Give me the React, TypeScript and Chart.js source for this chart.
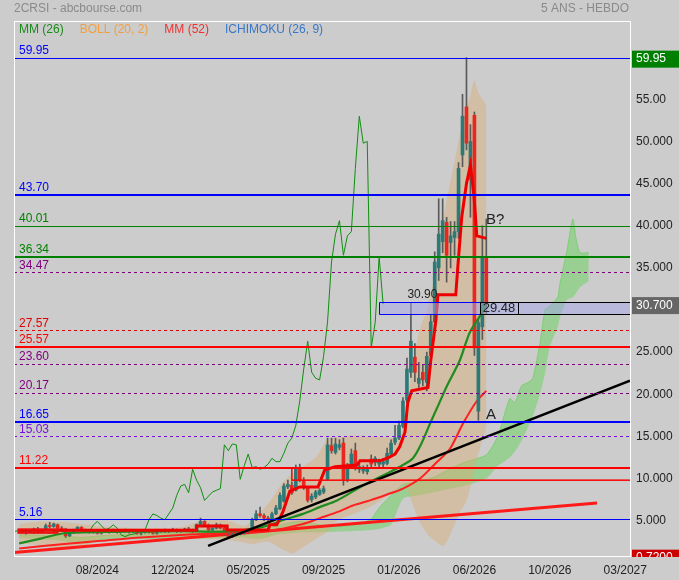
import React, { useEffect, useRef } from 'react';
import { Chart, registerables } from 'chart.js';

Chart.register(...registerables);

const W = 679;
const H = 580;
const BG = '#cccccc';
const FONT = '"Liberation Sans", Arial, sans-serif';

// ---- axis ticks ----
const xTickPositions = [19, 38, 57, 76, 95, 114, 133, 152];
const xTickLabels = ['08/2024', '12/2024', '05/2025', '09/2025', '01/2026', '06/2026', '10/2026', '03/2027'];
const yTickValues = [5, 10, 15, 20, 25, 30, 35, 40, 45, 50, 55];
const yTickLabels = ['5.000', '10.000', '15.000', '20.000', '25.000', '30.000', '35.000', '40.000', '45.000', '50.000', '55.00'];

// ---- weekly candles (index = week) ----
const opens = [
  3.7, 3.6, 3.7, 3.8, 4.0, 3.6, 3.9, 4.4, 4.3, 4.5, 4.1, 4.0, 3.2, 3.6, 3.9, 4.2, 3.9, 3.7, 3.8, 3.6,
  3.5, 3.8, 3.7, 3.8, 3.6, 3.7, 3.8, 3.7, 3.8, 3.7, 3.5, 3.6, 3.7, 3.6, 3.5, 3.7, 3.8, 3.7, 3.8, 3.9,
  3.7, 3.8, 4.0, 3.8, 3.7, 4.5, 4.9, 4.4, 3.9, 4.1, 4.5, 4.1, 3.3, 3.1, 3.3, 3.4, 3.5, 3.7, 3.9, 5.1,
  5.8, 5.6, 5.3, 5.2, 5.8, 6.4, 7.3, 9.0, 9.2, 8.6, 11.1, 9.8, 8.9, 7.5, 7.8, 8.1, 8.4, 9.9, 13.9, 13.1,
  13.7, 14.2, 9.9, 11.5, 13.3, 11.1, 10.9, 10.8, 12.3, 11.9, 11.7, 11.7, 11.8, 12.9, 14.3, 14.8, 16.2, 19.3, 22.6, 24.4,
  21.3, 22.6, 21.4, 24.6, 28.6, 35.0, 38.1, 40.4, 38.0, 38.6, 39.3, 48.4, 54.1, 45.5, 53.1, 18.0, 28.0, 36.3,
];
const highs = [
  3.9, 3.8, 3.9, 4.1, 4.2, 4.0, 4.6, 4.8, 4.7, 4.6, 4.3, 4.1, 3.7, 4.0, 4.3, 4.3, 4.0, 3.9, 3.9, 3.8,
  3.9, 4.0, 3.9, 4.0, 3.8, 3.9, 4.0, 3.9, 3.9, 3.8, 3.7, 3.8, 3.9, 3.7, 3.8, 3.9, 4.0, 3.9, 4.1, 4.0,
  3.9, 4.1, 4.2, 4.0, 4.6, 5.3, 5.0, 4.6, 4.3, 4.7, 4.6, 4.2, 3.5, 3.5, 3.6, 3.7, 3.8, 4.1, 5.3, 6.2,
  6.6, 5.8, 5.5, 6.0, 6.8, 8.3, 9.4, 9.8, 9.6, 11.6, 11.7, 10.1, 9.0, 8.2, 8.6, 8.8, 9.1, 14.8, 14.8, 14.8,
  14.6, 14.8, 11.8, 13.5, 14.2, 11.8, 11.5, 11.6, 12.8, 12.6, 12.3, 12.4, 13.6, 14.6, 16.3, 16.8, 19.6, 24.3, 30.9, 26.0,
  23.8, 23.5, 25.0, 29.5, 36.9, 43.2, 43.2, 41.0, 40.5, 40.5, 47.5, 55.6, 59.95, 52.0, 53.5, 29.0, 40.0, 40.8,
];
const lows = [
  3.5, 3.4, 3.6, 3.7, 3.5, 3.5, 3.8, 4.1, 4.2, 4.0, 3.9, 3.0, 3.1, 3.5, 3.8, 3.8, 3.6, 3.5, 3.5, 3.4,
  3.4, 3.6, 3.5, 3.6, 3.5, 3.6, 3.6, 3.5, 3.6, 3.4, 3.3, 3.5, 3.5, 3.4, 3.4, 3.6, 3.6, 3.6, 3.7, 3.6,
  3.6, 3.7, 3.8, 3.6, 3.7, 4.4, 4.3, 3.8, 3.8, 4.0, 4.0, 3.2, 3.0, 3.0, 3.2, 3.3, 3.4, 3.6, 3.8, 5.0,
  5.4, 5.0, 4.9, 5.1, 5.7, 6.3, 7.2, 8.8, 8.1, 8.5, 9.6, 8.7, 7.2, 7.2, 7.6, 8.0, 8.2, 9.8, 13.0, 12.9,
  13.4, 9.2, 9.6, 11.3, 11.0, 10.7, 10.6, 10.5, 11.4, 11.5, 11.3, 11.2, 11.6, 12.7, 14.0, 14.6, 16.0, 19.0, 22.0, 21.5,
  20.8, 21.0, 20.4, 24.0, 28.0, 33.5, 36.8, 33.3, 35.0, 36.5, 38.5, 47.0, 49.0, 41.0, 24.6, 16.9, 26.5, 29.5,
];
const closes = [
  3.6, 3.7, 3.8, 4.0, 3.6, 3.9, 4.4, 4.3, 4.6, 4.1, 4.0, 3.2, 3.6, 3.9, 4.2, 3.9, 3.7, 3.8, 3.6, 3.5,
  3.8, 3.7, 3.8, 3.6, 3.7, 3.8, 3.7, 3.8, 3.7, 3.5, 3.6, 3.7, 3.6, 3.5, 3.7, 3.8, 3.7, 3.8, 3.9, 3.7,
  3.8, 4.0, 3.9, 3.7, 4.5, 4.9, 4.4, 3.9, 4.1, 4.5, 4.1, 3.3, 3.1, 3.3, 3.4, 3.5, 3.7, 3.9, 5.1, 5.8,
  5.6, 5.3, 5.1, 5.8, 6.5, 8.0, 9.1, 9.3, 8.3, 11.1, 9.8, 8.9, 7.4, 7.9, 8.4, 8.6, 8.8, 14.0, 13.3, 14.1,
  14.0, 9.9, 11.5, 12.9, 11.3, 11.4, 11.1, 11.3, 11.7, 12.4, 12.0, 12.0, 13.0, 14.2, 14.8, 16.3, 19.2, 23.0, 26.3, 22.6,
  21.9, 21.7, 24.5, 28.6, 35.7, 39.0, 40.6, 36.5, 38.8, 39.3, 46.8, 53.0, 49.8, 50.0, 25.5, 28.5, 36.3, 30.7,
];
const chikouShift = 26;

// ---- MM (26) ----
const mm26X = [-0.7, 5, 10.6, 20, 30, 40, 50, 58, 62.5, 66, 70.8, 75, 79.4, 83.5, 87.7, 92, 96, 98.5, 100.5, 102.8, 105, 107.1, 110.3, 112.8, 115.4, 117];
const mm26Y = [2.3, 2.9, 3.5, 3.65, 3.7, 3.75, 3.7, 4.0, 4.5, 5.1, 5.8, 6.6, 7.4, 8.5, 9.6, 10.6, 11.6, 12.4, 14.0, 16.5, 18.8, 21.0, 24.0, 27.3, 29.3, 30.7];

// ---- MM (52) ----
const mm52X = [-0.7, 10, 20, 30, 40, 50, 62.5, 70.8, 75.1, 79.4, 83.4, 87.7, 92, 96, 100.3, 104, 107.8, 111.1, 114.6, 117];
const mm52Y = [1.7, 2.2, 2.6, 3.0, 3.3, 3.5, 3.8, 4.6, 5.3, 6.0, 6.8, 7.4, 8.1, 8.8, 10.0, 11.7, 13.5, 16.5, 19.2, 20.4];

// ---- Ichimoku tenkan (red step line) ----
const tenkanX = [-0.7, 44, 44, 51.7, 51.7, 62, 62.5, 64.2, 65.8, 67.5, 70, 74.6, 76.3, 78.9, 84.4, 85.2, 90.2, 92, 94, 95.2, 96.5, 97.2, 98.2, 102.3, 103, 104.3, 104.8, 109.3, 109.8, 110.8, 112, 113, 113.9, 114.6, 117];
const tenkanY = [3.85, 3.85, 4.35, 4.35, 3.9, 3.9, 4.5, 4.5, 6.1, 8.5, 9.0, 9.0, 11.0, 11.4, 11.6, 12.1, 12.1, 12.4, 12.9, 13.8, 15.5, 19.0, 20.4, 20.8, 24.0, 28.8, 31.8, 31.8, 35.0, 41.0, 45.0, 47.2, 43.5, 38.8, 38.5];

// ---- Bollinger (20, 2) ----
const bollX = [-0.7, 5, 10, 15, 20, 30, 40, 44, 48, 52, 56, 58, 62, 66, 68, 70, 74, 77, 79, 83, 88, 92, 95, 96, 97, 98, 100, 102, 103, 104, 106, 107, 109, 110, 112, 113, 114, 115, 117];
const bollUpper = [4.6, 4.9, 4.8, 4.6, 4.3, 4.1, 4.2, 4.8, 5.2, 5.0, 4.4, 5.1, 7.0, 9.7, 10.5, 11.2, 12.5, 14.7, 14.8, 15.1, 15.0, 14.9, 14.9, 16.0, 17.7, 22.0, 27.3, 30.0, 32.0, 34.0, 40.0, 43.0, 47.6, 50.0, 54.0, 55.5, 57.2, 55.8, 54.3];
const bollLower = [2.3, 2.0, 1.6, 1.8, 2.9, 3.1, 3.2, 2.9, 2.8, 2.7, 2.4, 2.2, 2.5, 1.5, 1.1, 1.6, 2.8, 3.7, 4.9, 5.7, 6.7, 7.9, 8.8, 9.3, 8.8, 7.5, 5.0, 3.5, 3.0, 2.6, 2.0, 2.5, 4.5, 5.7, 7.4, 9.0, 11.0, 13.0, 16.0];

// ---- Ichimoku cloud ----
const cloudX = [-0.7, 10, 15, 20, 25, 30, 40, 50, 55, 60, 65, 70, 75, 80, 85, 88, 90, 93, 96, 100, 104, 108, 112, 117, 119.9, 122.9, 124.2, 125.9, 127.9, 128.8, 130.5, 131.8, 133, 135, 135.5, 137.3, 138.8, 139.6, 140.6, 142.8];
const cloudTop = [3.3, 3.2, 3.0, 3.2, 3.3, 3.4, 3.5, 3.6, 3.7, 3.8, 4.5, 4.9, 4.5, 4.3, 4.6, 5.2, 6.5, 8.0, 9.3, 9.6, 10.2, 11.2, 12.0, 12.8, 15.0, 19.5, 19.0, 21.0, 21.5, 22.0, 26.0, 30.0, 30.5, 31.5, 33.0, 37.0, 40.8, 38.5, 36.8, 36.8];
const cloudBottom = [2.9, 2.6, 2.2, 2.6, 2.9, 2.8, 2.8, 2.9, 3.0, 2.8, 3.4, 3.6, 3.6, 3.7, 3.8, 3.9, 4.0, 4.5, 7.6, 8.0, 8.4, 8.8, 9.2, 10.0, 11.5, 12.5, 13.2, 14.5, 16.5, 17.5, 20.0, 22.5, 25.6, 28.0, 29.0, 31.2, 31.5, 32.0, 32.7, 33.4];

// ---- trend lines ----
const blackTrendX = [46.9, 153.2];
const blackTrendY = [2.0, 21.6];
const redTrendX = [-2, 144.9];
const redTrendY = [1.2, 7.1];

// ---- horizontal levels ----
const levelValues = [59.95, 43.7, 40.01, 36.34, 34.47, 27.57, 25.57, 23.6, 20.17, 16.65, 15.03, 11.22, 5.16];
const levelLabels = ['59.95', '43.70', '40.01', '36.34', '34.47', '27.57', '25.57', '23.60', '20.17', '16.65', '15.03', '11.22', '5.16'];
const levelColors = ['#0000ff', '#0000ff', '#008000', '#008000', '#800080', '#e00000', '#ff0000', '#800080', '#800080', '#0000ff', '#7a10e0', '#ff0000', '#0000ff'];
const levelWidths = [1, 2, 1, 2, 1, 1, 2, 1, 1, 2, 1, 2, 1];
const levelDashed = [false, false, false, false, true, true, false, true, true, false, true, false, false];

// ---- zones ----
const zoneLavenderX = [90, 153.2];
const zoneLavenderY = [29.48, 30.9];
const zoneBlackX = [115.4, 125];
const zoneRedX = [68, 153.2];
const zoneRedY = [9.8, 11.22];
const zoneLeftX = [-0.9, 9];
const zoneLeftY = [3.55, 3.95];

// ---- notes ----
const noteTexts = ['30.90', '29.48', 'B?', 'A'];
const noteX = [100.9, 116.1, 116.9, 116.9];
const noteY = [31.8, 30.2, 40.7, 17.6];
const noteSizes = [12, 13, 15, 15];
const noteAlign = ['center', 'left', 'left', 'left'];

// ---- right axis tags ----
const tagValues = [59.95, 30.7, 0.72];
const tagTexts = ['59.95', '30.700', '0.7200'];
const tagColors = ['#008000', '#666666', '#cc0000'];

// ---- legend ----
const legendTexts = ['MM (26)', 'BOLL (20, 2)', 'MM (52)', 'ICHIMOKU (26, 9)'];
const legendColors = ['#1a8a1a', '#f0a040', '#f03030', '#3878c8'];

const pts = (xs: number[], ys: number[]) => xs.map((x, k) => ({ x, y: ys[k] }));

const decorPlugin = {
  id: 'decor',
  beforeDraw(chart: any) {
    const ctx = chart.ctx;
    ctx.save();
    ctx.fillStyle = BG;
    ctx.fillRect(0, 0, chart.width, chart.height);
    ctx.restore();
  },
  afterDatasetsDraw(chart: any) {
    const ctx = chart.ctx;
    const a = chart.chartArea;
    const x = chart.scales.x;
    const y = chart.scales.y;
    ctx.save();
    ctx.beginPath();
    ctx.rect(a.left, a.top, a.right - a.left, a.bottom - a.top);
    ctx.clip();

    // left small red box
    ctx.strokeStyle = '#ee1010';
    ctx.lineWidth = 2;
    ctx.strokeRect(
      x.getPixelForValue(zoneLeftX[0]), y.getPixelForValue(zoneLeftY[1]),
      x.getPixelForValue(zoneLeftX[1]) - x.getPixelForValue(zoneLeftX[0]),
      y.getPixelForValue(zoneLeftY[0]) - y.getPixelForValue(zoneLeftY[1])
    );

    // red zone
    ctx.strokeStyle = '#ff0000';
    ctx.lineWidth = 1.5;
    const rx0 = x.getPixelForValue(zoneRedX[0]);
    const rx1 = x.getPixelForValue(zoneRedX[1]) + 2;
    const ry0 = y.getPixelForValue(zoneRedY[1]);
    const ry1 = y.getPixelForValue(zoneRedY[0]);
    ctx.strokeRect(rx0, ry0, rx1 - rx0, ry1 - ry0);

    // lavender zone
    const lx0 = x.getPixelForValue(zoneLavenderX[0]);
    const lx1 = x.getPixelForValue(zoneLavenderX[1]) + 2;
    const ly0 = Math.round(y.getPixelForValue(zoneLavenderY[1]));
    const ly1 = Math.round(y.getPixelForValue(zoneLavenderY[0]));
    ctx.fillStyle = 'rgba(165,165,235,0.5)';
    ctx.fillRect(lx0, ly0, lx1 - lx0, ly1 - ly0);
    const bx0 = Math.round(x.getPixelForValue(zoneBlackX[0]));
    const bx1 = Math.round(x.getPixelForValue(zoneBlackX[1]));
    ctx.strokeStyle = '#0000ff';
    ctx.lineWidth = 1;
    ctx.beginPath();
    ctx.moveTo(bx0, ly0 + 0.5); ctx.lineTo(Math.round(lx0) + 0.5, ly0 + 0.5); ctx.lineTo(Math.round(lx0) + 0.5, ly1 + 0.5); ctx.lineTo(bx0, ly1 + 0.5);
    ctx.stroke();
    ctx.strokeStyle = '#000000';
    ctx.beginPath();
    ctx.moveTo(bx0, ly0 + 0.5); ctx.lineTo(lx1, ly0 + 0.5);
    ctx.moveTo(bx0, ly1 + 0.5); ctx.lineTo(lx1, ly1 + 0.5);
    ctx.moveTo(bx0 + 0.5, ly0); ctx.lineTo(bx0 + 0.5, ly1);
    ctx.moveTo(bx1 + 0.5, ly0); ctx.lineTo(bx1 + 0.5, ly1);
    ctx.stroke();

    // level lines
    levelValues.forEach((v, k) => {
      const py = Math.round(y.getPixelForValue(v)) + (levelWidths[k] % 2 === 1 ? 0.5 : 0);
      ctx.strokeStyle = levelColors[k];
      ctx.lineWidth = levelWidths[k];
      ctx.setLineDash(levelDashed[k] ? [3, 3] : []);
      ctx.beginPath();
      ctx.moveTo(a.left, py);
      ctx.lineTo(a.right, py);
      ctx.stroke();
    });
    ctx.setLineDash([]);

    // level labels
    ctx.font = `12px ${FONT}`;
    ctx.textAlign = 'left';
    ctx.textBaseline = 'alphabetic';
    levelValues.forEach((v, k) => {
      const py = y.getPixelForValue(v);
      ctx.fillStyle = levelColors[k];
      ctx.fillText(levelLabels[k], a.left + 5, py - 3 - levelWidths[k] / 2);
    });

    // notes
    noteTexts.forEach((t, k) => {
      ctx.font = `${noteSizes[k]}px ${FONT}`;
      ctx.fillStyle = '#222222';
      ctx.textAlign = noteAlign[k] as CanvasTextAlign;
      ctx.textBaseline = 'middle';
      ctx.fillText(t, x.getPixelForValue(noteX[k]), y.getPixelForValue(noteY[k]));
    });
    ctx.restore();
  },
  afterDraw(chart: any) {
    const ctx = chart.ctx;
    const a = chart.chartArea;
    const y = chart.scales.y;
    ctx.save();

    // plot frame
    ctx.strokeStyle = '#ffffff';
    ctx.lineWidth = 1;
    ctx.strokeRect(a.left + 0.5, a.top + 0.5, a.right - a.left, a.bottom - a.top);

    // right axis tags
    ctx.save();
    ctx.beginPath();
    ctx.rect(0, 0, chart.width, a.bottom + 1);
    ctx.clip();
    tagValues.forEach((v, k) => {
      const cy = y.getPixelForValue(v) + 1.5;
      ctx.fillStyle = tagColors[k];
      ctx.fillRect(a.right + 2, cy - 8.5, chart.width - a.right - 2, 17);
      ctx.fillStyle = '#ffffff';
      ctx.font = `12px ${FONT}`;
      ctx.textAlign = 'left';
      ctx.textBaseline = 'middle';
      ctx.fillText(tagTexts[k], a.right + 6, cy);
    });
    ctx.restore();

    // titles
    ctx.font = `12px ${FONT}`;
    ctx.fillStyle = '#8a8a8a';
    ctx.textBaseline = 'middle';
    ctx.textAlign = 'left';
    ctx.fillText('2CRSI - abcbourse.com', 14, 9);
    ctx.textAlign = 'right';
    ctx.fillText('5 ANS - HEBDO', 629, 9);

    // legend
    ctx.textAlign = 'left';
    let lx = a.left + 5;
    legendTexts.forEach((t, k) => {
      ctx.fillStyle = legendColors[k];
      ctx.fillText(t, lx, a.top + 9);
      lx += ctx.measureText(t).width + 16;
    });
    ctx.restore();
  },
};

export default function App() {
  const ref = useRef<HTMLCanvasElement>(null);

  useEffect(() => {
    const canvas = ref.current;
    if (!canvas) return;
    Chart.defaults.font.family = FONT;
    Chart.defaults.font.size = 12;

    const wickData = closes.map((_, i) => ({ x: i, y: [lows[i], highs[i]] }));
    const bodyData = closes.map((c, i) => ({ x: i, y: [opens[i], c] }));
    const bodyColors = closes.map((c, i) => (c >= opens[i] ? '#2b7a77' : '#e8281e'));
    const chikouData = closes.map((c, i) => ({ x: i - chikouShift, y: c }));

    const chart = new Chart(canvas, {
      type: 'line',
      data: {
        datasets: [
          { type: 'line', data: pts(cloudX, cloudBottom), borderColor: 'rgba(0,0,0,0)', borderWidth: 0, pointRadius: 0, fill: false, order: 30, tension: 0.2 },
          { type: 'line', data: pts(cloudX, cloudTop), borderColor: 'rgba(120,205,110,0.9)', borderWidth: 1, pointRadius: 0, fill: '-1', backgroundColor: 'rgba(112,210,100,0.55)', order: 30, tension: 0.2 },
          { type: 'line', data: pts(bollX, bollLower), borderColor: 'rgba(0,0,0,0)', borderWidth: 0, pointRadius: 0, fill: false, order: 29, tension: 0.3 },
          { type: 'line', data: pts(bollX, bollUpper), borderColor: 'rgba(0,0,0,0)', borderWidth: 0, pointRadius: 0, fill: '-1', backgroundColor: 'rgba(218,172,115,0.45)', order: 29, tension: 0.3 },
          { type: 'line', data: pts(redTrendX, redTrendY), borderColor: '#ff1a1a', borderWidth: 3, pointRadius: 0, fill: false, order: 25 },
          { type: 'line', data: pts(mm52X, mm52Y), borderColor: '#ff2020', borderWidth: 2, pointRadius: 0, fill: false, order: 20, tension: 0.3 },
          { type: 'line', data: chikouData, borderColor: '#0f8f0f', borderWidth: 1, pointRadius: 0, fill: false, order: 18 },
          { type: 'bar', data: wickData as any, backgroundColor: '#5a5a5a', barThickness: 1, grouped: false, order: 15 },
          { type: 'bar', data: bodyData as any, backgroundColor: bodyColors, barThickness: 3, grouped: false, minBarLength: 1, order: 14 },
          { type: 'line', data: pts(mm26X, mm26Y), borderColor: '#1e8c1e', borderWidth: 2.2, pointRadius: 0, fill: false, order: 10, tension: 0.3 },
          { type: 'line', data: pts(tenkanX, tenkanY), borderColor: '#ee0000', borderWidth: 3, pointRadius: 0, fill: false, order: 8 },
          { type: 'line', data: pts(blackTrendX, blackTrendY), borderColor: '#000000', borderWidth: 2.5, pointRadius: 0, fill: false, order: 5 },
        ] as any,
      },
      options: {
        animation: false,
        responsive: false,
        events: [],
        layout: { padding: { left: 14, top: 21, right: 0, bottom: 0 } },
        plugins: { legend: { display: false }, tooltip: { enabled: false }, title: { display: false } },
        scales: {
          x: {
            type: 'linear',
            min: -2,
            max: 153.2,
            offset: false,
            grid: { display: false, drawTicks: false },
            border: { display: false },
            afterBuildTicks: (s: any) => { s.ticks = xTickPositions.map((v) => ({ value: v })); },
            afterFit: (s: any) => { s.height = 24; },
            ticks: {
              autoSkip: false,
              maxRotation: 0,
              padding: 7,
              color: '#222222',
              font: { size: 12, family: FONT },
              callback: (_v: any, i: number) => xTickLabels[i],
            },
          },
          y: {
            type: 'linear',
            position: 'right',
            min: 0.8,
            max: 64.3,
            grid: { display: false, drawTicks: false },
            border: { display: false },
            afterBuildTicks: (s: any) => { s.ticks = yTickValues.map((v) => ({ value: v })); },
            afterFit: (s: any) => { s.width = 49; },
            ticks: {
              autoSkip: false,
              padding: 6,
              color: '#222222',
              font: { size: 12, family: FONT },
              callback: (_v: any, i: number) => yTickLabels[i],
            },
          },
        },
      } as any,
      plugins: [decorPlugin],
    });
    return () => chart.destroy();
  }, []);

  return (
    <div style={{ position: 'absolute', left: 0, top: 0, width: W, height: H, background: BG }}>
      <canvas ref={ref} width={W} height={H} style={{ display: 'block', width: W, height: H }} />
    </div>
  );
}
